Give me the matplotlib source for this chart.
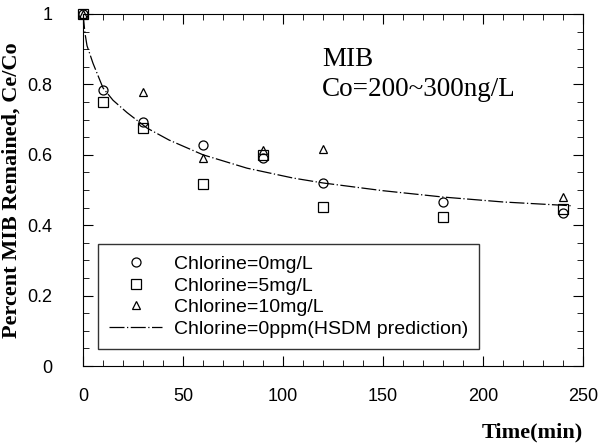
import matplotlib.pyplot as plt
import numpy as np
from matplotlib.ticker import MultipleLocator

# 측정값 (시간, Ce/Co)
t_cl0 = [0, 10, 30, 60, 90, 120, 180, 240]
y_cl0 = [1.0, 0.785, 0.693, 0.628, 0.59, 0.52, 0.466, 0.435]

t_cl5 = [0, 10, 30, 60, 90, 120, 180, 240]
y_cl5 = [1.0, 0.75, 0.676, 0.517, 0.60, 0.452, 0.423, 0.445]

t_cl10 = [0, 30, 60, 90, 120, 240]
y_cl10 = [1.0, 0.778, 0.59, 0.614, 0.617, 0.48]

# HSDM 예측 곡선
t_hsdm = [0, 1, 2, 5, 10, 15, 22, 32, 43, 60, 82, 105, 120, 150, 180, 210, 245]
y_hsdm = [1.0, 0.945, 0.91, 0.86, 0.79, 0.755, 0.72, 0.676, 0.642, 0.60, 0.562, 0.534, 0.52, 0.498, 0.48, 0.466, 0.455]

plt.rcParams['font.family'] = ['Liberation Sans', 'DejaVu Sans']

fig = plt.figure(figsize=(6.01, 4.44), dpi=100)
ax = fig.add_axes([83/601, 1-366/444, 500/601, 352/444])

mk = dict(ls='none', mfc='none', mec='black', mew=0.9, clip_on=False)
ax.plot(t_cl0, y_cl0, marker='o', ms=6.5, label='Chlorine=0mg/L', **mk)
ax.plot(t_cl5, y_cl5, marker='s', ms=7, label='Chlorine=5mg/L', **mk)
ax.plot(t_cl10, y_cl10, marker='^', ms=6, label='Chlorine=10mg/L', **mk)
ax.plot(t_hsdm, y_hsdm, color='black', lw=0.9, dashes=(12, 2, 1, 2),
        label='Chlorine=0ppm(HSDM prediction)')

ax.set_xlim(0, 250)
ax.set_ylim(0, 1)
ax.xaxis.set_major_locator(MultipleLocator(50))
ax.xaxis.set_minor_locator(MultipleLocator(10))
ax.yaxis.set_major_locator(MultipleLocator(0.2))
ax.yaxis.set_minor_locator(MultipleLocator(0.05))
ax.set_yticks([0, 0.2, 0.4, 0.6, 0.8, 1])
ax.set_yticklabels(['0', '0.2', '0.4', '0.6', '0.8', '1'])
ax.tick_params(which='both', direction='in', top=True, right=True, labelsize=13)
ax.tick_params(axis='x', pad=16)
ax.tick_params(axis='y', pad=22)
ax.tick_params(which='major', length=7)
ax.tick_params(which='minor', length=4)

ax.set_ylabel('Percent MIB Remained, Ce/Co', family='Liberation Serif', fontweight='bold', fontsize=16)
ax.yaxis.set_label_coords(-61/500, 0.5)
ax.text(1.0, -0.188, 'Time(min)', transform=ax.transAxes, ha='right', va='center',
        family='Liberation Serif', fontweight='bold', fontsize=16)

ax.text(0.478, 0.87, 'MIB', transform=ax.transAxes, family='Liberation Serif', fontsize=19.5, va='center')
ax.text(0.478, 0.785, 'Co=200~300ng/L', transform=ax.transAxes, family='Liberation Serif', fontsize=19.5, va='center')

leg = ax.legend(loc='lower left', bbox_to_anchor=(5/500, 7/352), fontsize=14, frameon=True,
                fancybox=False, edgecolor='black', handlelength=2.7, handletextpad=0.6,
                labelspacing=0.2, borderpad=0.6)
leg.get_frame().set_linewidth(1.0)

fig.savefig('out.png', dpi=100)
